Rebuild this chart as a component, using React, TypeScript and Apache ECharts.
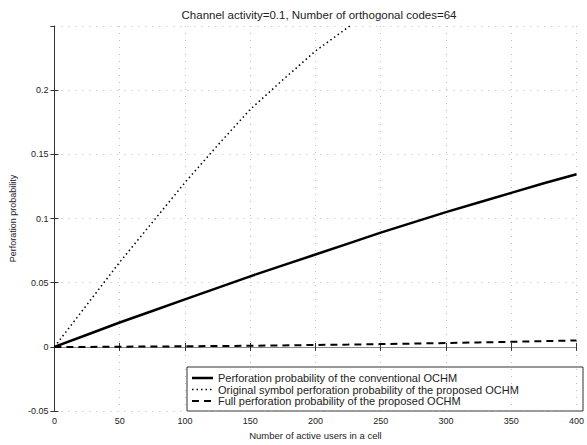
import React, { useEffect, useRef } from "react";
import * as echarts from "echarts";

// Number of active users in a cell
const users = [0, 25, 50, 75, 100, 125, 150, 175, 200, 225, 250, 275, 300, 325, 350, 375, 400];

// Perforation probability of the conventional OCHM
const conventional = [0, 0.0095, 0.019, 0.028, 0.037, 0.046, 0.055, 0.0635, 0.072, 0.0805, 0.089, 0.097, 0.105, 0.1125, 0.12, 0.1275, 0.1345];

// Original symbol perforation probability of the proposed OCHM (leaves the axes past ~225 users)
const originalSymbol = [0, 0.033, 0.066, 0.097, 0.128, 0.157, 0.185, 0.208, 0.2305, 0.249, 0.268];

// Full perforation probability of the proposed OCHM
const fullPerforation = [0, 0, 0.0002, 0.0003, 0.0005, 0.0007, 0.0009, 0.0012, 0.0015, 0.0018, 0.0022, 0.0026, 0.003, 0.0035, 0.004, 0.0045, 0.005];

const seriesNames = [
  "Perforation probability of the conventional OCHM",
  "Original symbol perforation probability of the proposed OCHM",
  "Full perforation probability of the proposed OCHM",
];

const lineStyles = [
  { width: 2.5, type: "solid" as any },
  { width: 1.5, type: [1.5, 3] as any },
  { width: 2, type: [7, 5] as any },
];

const xTicks = { min: 0, max: 400, interval: 50 };
const yTicks = { min: -0.05, max: 0.25, interval: 0.05 };

const FONT = "Liberation Sans, Arial, sans-serif";

const pairs = (ys: number[]) => ys.map((y, i) => [users[i], y]);

// Boxed legend in the lower right of the axes
function legendGraphic() {
  const box = { x: 187, y: 367, w: 396, h: 44 };
  const rowY = [378, 389.5, 401];
  const children: any[] = [
    {
      type: "rect",
      shape: { x: box.x, y: box.y, width: box.w, height: box.h },
      style: { fill: "#fff", stroke: "#333", lineWidth: 1 },
    },
  ];
  seriesNames.forEach((name, i) => {
    children.push({
      type: "line",
      shape: { x1: 192, y1: rowY[i], x2: 213, y2: rowY[i] },
      style: { stroke: "#000", lineWidth: lineStyles[i].width, lineDash: Array.isArray(lineStyles[i].type) ? lineStyles[i].type : null },
    });
    children.push({
      type: "text",
      x: 218,
      y: rowY[i],
      style: { text: name, font: `11px ${FONT}`, fill: "#222", verticalAlign: "middle" },
    });
  });
  return [{ type: "group", z: 100, children }];
}

export default function App() {
  const ref = useRef<HTMLDivElement>(null);

  useEffect(() => {
    document.body.style.margin = "0";
    const chart = echarts.init(ref.current!, undefined, { renderer: "svg" });
    const gridLine = { show: true, lineStyle: { color: "#bbb", type: [1, 6] as any, width: 1 } };
    const tick = { show: true, inside: true, length: 4, lineStyle: { color: "#333" } };
    chart.setOption({
      animation: false,
      backgroundColor: "#fff",
      title: {
        text: "Channel activity=0.1, Number of orthogonal codes=64",
        left: 314,
        textAlign: "center",
        top: 4,
        textStyle: { fontFamily: FONT, fontSize: 11.5, fontWeight: "normal", color: "#222" },
      },
      grid: { left: 47, right: 5, top: 26, bottom: 28 },
      xAxis: [
        {
          type: "value",
          ...xTicks,
          name: "Number of active users in a cell",
          nameLocation: "middle",
          nameGap: 17,
          nameTextStyle: { fontFamily: FONT, fontSize: 9.5, color: "#222" },
          axisLine: { show: true, lineStyle: { color: "#444", width: 1 } },
          axisTick: tick,
          axisLabel: { fontFamily: FONT, fontSize: 9, color: "#222", margin: 5 },
          splitLine: gridLine,
        },
        {
          type: "value",
          position: "top",
          ...xTicks,
          axisLine: { show: true, lineStyle: { color: "#888", width: 1 } },
          axisTick: tick,
          axisLabel: { show: false },
          splitLine: { show: false },
        },
      ],
      yAxis: [
        {
          type: "value",
          ...yTicks,
          name: "Perforation probability",
          nameLocation: "middle",
          nameGap: 33,
          nameTextStyle: { fontFamily: FONT, fontSize: 9, color: "#222" },
          axisLine: { show: false },
          axisTick: tick,
          axisLabel: {
            fontFamily: FONT,
            fontSize: 9,
            color: "#222",
            margin: 6,
            showMaxLabel: false,
            formatter: (v: number) => String(Math.round(v * 100) / 100),
          },
          splitLine: gridLine,
        },
        {
          type: "value",
          position: "right",
          ...yTicks,
          axisLine: { show: true, lineStyle: { color: "#333", width: 1 } },
          axisTick: tick,
          axisLabel: { show: false },
          splitLine: { show: false },
        },
      ],
      graphic: legendGraphic(),
      series: [conventional, originalSymbol, fullPerforation].map((ys, i) => ({
        name: seriesNames[i],
        type: "line",
        data: pairs(ys),
        showSymbol: false,
        symbol: "none",
        clip: true,
        lineStyle: { color: "#000", ...lineStyles[i] },
        itemStyle: { color: "#000" },
      })),
    });
    return () => chart.dispose();
  }, []);

  return <div ref={ref} style={{ width: 587, height: 445 }} />;
}
